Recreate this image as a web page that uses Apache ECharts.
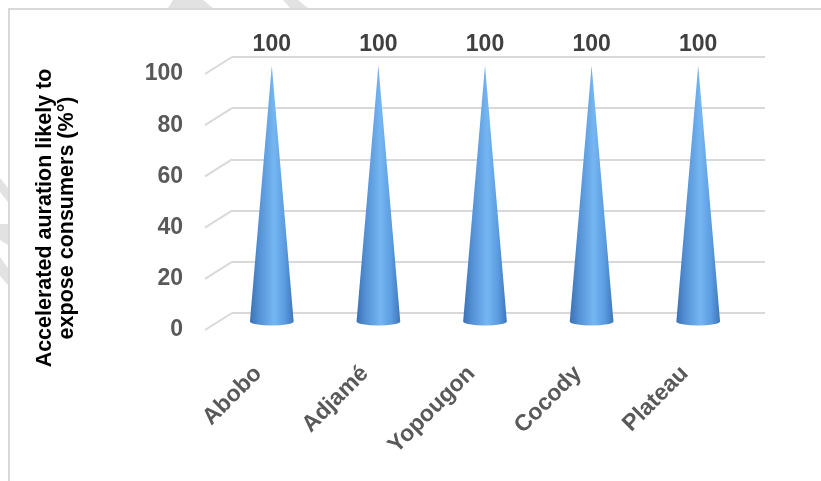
<!DOCTYPE html>
<html>
<head>
<meta charset="utf-8">
<script src="https://cdn.jsdelivr.net/npm/echarts@6/dist/echarts.min.js"></script>
<style>
  html, body { margin: 0; padding: 0; background: #fff; }
  #chart { width: 821px; height: 481px; }
</style>
</head>
<body>
<div id="chart"></div>
<script>
// Districts and their share (%)
const categories = ['Abobo', 'Adjamé', 'Yopougon', 'Cocody', 'Plateau'];
const values = [100, 100, 100, 100, 100];
const yTicks = [0, 20, 40, 60, 80, 100];
const yTitle = ['Accelerated auration likely to', 'expose consumers (%°)'];

const FONT = '"Liberation Sans", Arial, sans-serif';
// depth offset of the 3D box: back wall vs. front edge
const DX = 13.5, DY = 8.5;
const PLOT = { left: 232, top: 57, width: 533, height: 256 };

const chart = echarts.init(document.getElementById('chart'), null, { renderer: 'canvas' });

function grid(k) {
  return { left: PLOT.left - DX * k, top: PLOT.top + DY * k, width: PLOT.width, height: PLOT.height };
}
function catAxis(gi, showLabels) {
  return {
    type: 'category', gridIndex: gi, data: categories,
    axisLine: { show: false }, axisTick: { show: false },
    axisLabel: showLabels ? {
      show: true, rotate: 45, margin: 40,
      fontFamily: FONT, fontWeight: 'bold', fontSize: 23, color: '#595959'
    } : { show: false },
    splitLine: { show: false }
  };
}
function valAxis(gi, opts) {
  return Object.assign({
    type: 'value', gridIndex: gi, min: 0, max: 100, interval: 20,
    axisLine: { show: false }, axisTick: { show: false },
    axisLabel: { show: false }, splitLine: { show: false }
  }, opts);
}

const option = {
  backgroundColor: '#fff',
  animation: false,
  grid: [grid(0), grid(1), grid(2)],
  xAxis: [catAxis(0, false), catAxis(1, false), catAxis(2, true)],
  yAxis: [
    valAxis(0, { splitLine: { show: true, lineStyle: { color: '#d9d9d9', width: 2 } } }),
    valAxis(1, {}),
    valAxis(2, {
      axisLabel: {
        show: true, margin: 22, padding: [6, 0, 0, 0],
        fontFamily: FONT, fontWeight: 'bold', fontSize: 23, color: '#595959'
      }
    })
  ],
  graphic: [
    // faint watermark strokes outside the frame
    { type: 'polygon', silent: true, z: -1, shape: { points: [[173, 0], [203, 0], [213, 8], [168, 8]] }, style: { fill: '#e2e2e2' } },
    { type: 'polygon', silent: true, z: -1, shape: { points: [[283, 0], [298, 0], [308, 8], [290, 8]] }, style: { fill: '#e2e2e2' } },
    { type: 'polygon', silent: true, z: -1, shape: { points: [[0, 178], [8, 188], [8, 202], [0, 192]] }, style: { fill: '#e2e2e2' } },
    { type: 'polygon', silent: true, z: -1, shape: { points: [[0, 224], [8, 224], [8, 245], [0, 240]] }, style: { fill: '#e2e2e2' } },
    { type: 'polygon', silent: true, z: -1, shape: { points: [[0, 257], [8, 268], [8, 285], [0, 276]] }, style: { fill: '#e2e2e2' } },
    // chart frame
    { type: 'rect', silent: true, shape: { x: 9, y: 9, width: 900, height: 600 }, style: { fill: 'none', stroke: '#d9d9d9', lineWidth: 2 } },
    // axis title
    {
      type: 'text', x: 56, y: 218, rotation: Math.PI / 2,
      style: {
        text: yTitle.join('\n'), align: 'center', verticalAlign: 'middle',
        font: 'bold 21.5px ' + FONT, lineHeight: 22, fill: '#000'
      }
    }
  ],
  series: [
    {
      // diagonal wall-to-floor edges at each gridline
      type: 'custom', xAxisIndex: 0, yAxisIndex: 0, silent: true,
      data: yTicks.map(v => [0, v]),
      renderItem: function (params, api) {
        const p = api.coord([0, api.value(1)]);
        const x0 = p[0] - api.size([1, 0])[0] / 2;
        return {
          type: 'line',
          shape: { x1: x0, y1: p[1], x2: x0 - 2 * DX, y2: p[1] + 2 * DY },
          style: { stroke: '#d9d9d9', lineWidth: 2 }
        };
      }
    },
    {
      // cones with value labels on top
      type: 'custom', xAxisIndex: 1, yAxisIndex: 1, silent: true,
      data: values.map((v, i) => [i, v]),
      renderItem: function (params, api) {
        const i = api.value(0);
        const v = api.value(1);
        const base = api.coord([i, 0]);
        const tip = api.coord([i, v]);
        const cx = base[0];
        const r = api.size([1, 0])[0] * 0.205;
        const ry = 4;
        const d = 'M' + cx + ',' + tip[1] +
          ' L' + (cx + r) + ',' + base[1] +
          ' A' + r + ',' + ry + ' 0 0 1 ' + (cx - r) + ',' + base[1] + ' Z';
        return {
          type: 'group',
          children: [
            {
              type: 'path',
              shape: { pathData: d },
              style: {
                fill: new echarts.graphic.LinearGradient(0, 0, 1, 0, [
                  { offset: 0, color: '#3a72b4' },
                  { offset: 0.22, color: '#5592d6' },
                  { offset: 0.55, color: '#75b6f2' },
                  { offset: 0.8, color: '#5b9be0' },
                  { offset: 1, color: '#3d76ba' }
                ])
              }
            },
            {
              type: 'text',
              style: {
                text: String(v), x: cx, y: tip[1] - 9,
                align: 'center', verticalAlign: 'bottom',
                font: 'bold 23px ' + FONT, fill: '#404040'
              }
            }
          ]
        };
      }
    }
  ]
};

chart.setOption(option);
</script>
</body>
</html>
